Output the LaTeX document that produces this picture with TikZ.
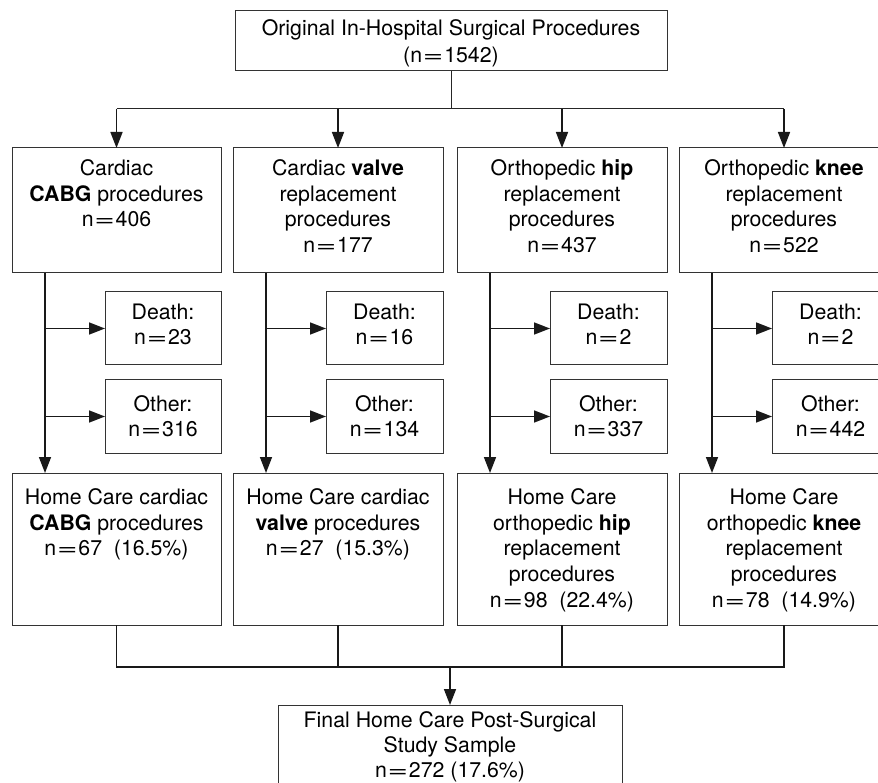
\documentclass[tikz,border=0pt]{standalone}
\usepackage{fontspec}
\usepackage{graphicx}
\setmainfont{TeX Gyre Heros}
\usetikzlibrary{arrows.meta}
\newcommand{\eqk}{\kern0.8pt\scalebox{1.65}[1]{=}\kern0.8pt}
\begin{document}
\begin{tikzpicture}[x=1pt,y=-1pt,
  box/.style={draw=black!80, line width=1pt, inner sep=0pt, outer sep=0pt},
  txt/.style={inner sep=0pt, outer sep=0pt, align=center, anchor=north, font=\fontsize{21.3}{25.6}\selectfont, text=black},
  thinline/.style={draw=black!85, line width=1pt},
  conn/.style={draw=black!90, line width=1.6pt},
  arr/.style={conn, -{Triangle[length=16pt,width=12pt]}},
]
\useasboundingbox (0,0) rectangle (878,783);

% top box
\node[box, minimum width=432pt, minimum height=60pt] (top) at (451,41) {};
\node[txt, font=\fontsize{21.3}{27}\selectfont] (toptxt) at (451,19.7) {Original In-Hospital Surgical Procedures\\(n\eqk1542)};

% row 1 boxes
\node[box, minimum width=209pt, minimum height=125pt] (c1) at (116.5,210.5) {};
\node[box, minimum width=210pt, minimum height=125pt] (c2) at (338,210.5) {};
\node[box, minimum width=210pt, minimum height=125pt] (c3) at (562,210.5) {};
\node[box, minimum width=210pt, minimum height=125pt] (c4) at (784,210.5) {};
\node[txt] (c1t) at (116.5,159.7) {Cardiac\\\textbf{CABG} procedures\\n\eqk406};
\node[txt] (c2t) at (338,159.7) {Cardiac \textbf{valve}\\replacement\\procedures\\n\eqk177};
\node[txt] (c3t) at (562,159.7) {Orthopedic \textbf{hip}\\replacement\\procedures\\n\eqk437};
\node[txt] (c4t) at (784,159.7) {Orthopedic \textbf{knee}\\replacement\\procedures\\n\eqk522};

% death boxes
\node[box, minimum width=116pt, minimum height=73pt] (d1) at (163,328.5) {};
\node[box, minimum width=117pt, minimum height=73pt] (d2) at (384.5,328.5) {};
\node[box, minimum width=117pt, minimum height=73pt] (d3) at (608.5,328.5) {};
\node[box, minimum width=117pt, minimum height=73pt] (d4) at (830.5,328.5) {};
\node[txt, font=\fontsize{21.3}{25}\selectfont] (d1t) at (163,303.7) {Death:\\n\eqk23};
\node[txt, font=\fontsize{21.3}{25}\selectfont] (d2t) at (384.5,303.7) {Death:\\n\eqk16};
\node[txt, font=\fontsize{21.3}{25}\selectfont] (d3t) at (608.5,303.7) {Death:\\n\eqk2};
\node[txt, font=\fontsize{21.3}{25}\selectfont] (d4t) at (830.5,303.7) {Death:\\n\eqk2};

% other boxes
\node[box, minimum width=116pt, minimum height=73pt] (o1) at (163,416.5) {};
\node[box, minimum width=117pt, minimum height=73pt] (o2) at (384.5,416.5) {};
\node[box, minimum width=117pt, minimum height=73pt] (o3) at (608.5,416.5) {};
\node[box, minimum width=117pt, minimum height=73pt] (o4) at (830.5,416.5) {};
\node[txt, font=\fontsize{21.3}{25}\selectfont] (o1t) at (163,395.5) {Other:\\n\eqk316};
\node[txt, font=\fontsize{21.3}{25}\selectfont] (o2t) at (384.5,395.5) {Other:\\n\eqk134};
\node[txt, font=\fontsize{21.3}{25}\selectfont] (o3t) at (608.5,395.5) {Other:\\n\eqk337};
\node[txt, font=\fontsize{21.3}{25}\selectfont] (o4t) at (830.5,395.5) {Other:\\n\eqk442};

% home care boxes
\node[box, minimum width=209pt, minimum height=152pt] (h1) at (116.5,549) {};
\node[box, minimum width=210pt, minimum height=152pt] (h2) at (338,549) {};
\node[box, minimum width=210pt, minimum height=152pt] (h3) at (562,549) {};
\node[box, minimum width=210pt, minimum height=152pt] (h4) at (784,549) {};
\node[txt] (h1t) at (116.5,488.7) {Home Care cardiac\\\textbf{CABG} procedures\\n\eqk67\ \ (16.5\%)};
\node[txt] (h2t) at (338,488.7) {Home Care cardiac\\\textbf{valve} procedures\\n\eqk27\ \ (15.3\%)};
\node[txt] (h3t) at (562,488.7) {Home Care\\orthopedic \textbf{hip}\\replacement\\procedures\\n\eqk98\ \ (22.4\%)};
\node[txt] (h4t) at (784,488.7) {Home Care\\orthopedic \textbf{knee}\\replacement\\procedures\\n\eqk78\ \ (14.9\%)};

% final box
\node[box, minimum width=344pt, minimum height=88pt] (fin) at (450,749) {};
\node[txt, font=\fontsize{21.3}{25}\selectfont] (fint) at (450,711.7) {Final Home Care Post-Surgical\\Study Sample\\n\eqk272 (17.6\%)};

% top connectors
\coordinate (hm) at (451,109);
\draw[thinline] (top.south) -- (hm);
\draw[thinline] (c1.north |- hm) -- (c4.north |- hm);
\foreach \b in {c1,c2,c3,c4}{
  \draw[arr] (\b.north |- hm) -- (\b.north);
}

% trunks
\foreach \i in {1,2,3,4}{
  \coordinate (t\i) at ([xshift=33pt]c\i.south west);
  \draw[arr] (t\i) -- (t\i |- h\i.north);
  \draw[arr] (d\i.west -| t\i) -- (d\i.west);
  \draw[arr] (o\i.west -| t\i) -- (o\i.west);
}

% bottom connectors
\coordinate (bm) at (450,667);
\foreach \b in {h1,h2,h3,h4}{
  \draw[conn] (\b.south) -- (\b.south |- bm);
}
\draw[conn, line cap=rect] (h1.south |- bm) -- (h4.south |- bm);
\draw[arr] (bm) -- (fin.north);
\end{tikzpicture}
\end{document}
